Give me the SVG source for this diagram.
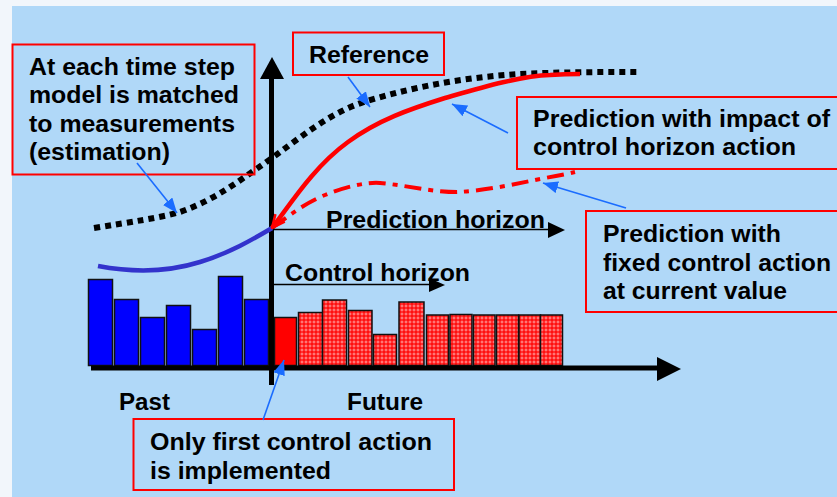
<svg xmlns="http://www.w3.org/2000/svg" width="837" height="497" viewBox="0 0 837 497">
  <style>
    .lbl { font-family: "Liberation Sans", Arial, sans-serif; font-weight: bold; font-size: 23px; fill: #000; }
    .box { fill: none; stroke: #ff0000; stroke-width: 2; }
    .past { fill: #0000ff; stroke: #111; stroke-width: 1.5; }
    .fut { fill: url(#hatch); stroke: #111; stroke-width: 1.5; }
    .call { fill: none; stroke: #1a6cff; stroke-width: 1.6; marker-end: url(#tip); }
  </style>
  <defs>
    <pattern id="hatch" width="4" height="4" patternUnits="userSpaceOnUse">
      <rect width="4" height="4" fill="#ff1010"/>
      <path d="M2 0.5v3M0.5 2h3" stroke="#ffb0b0" stroke-width="0.8"/>
    </pattern>
    <marker id="tip" markerUnits="userSpaceOnUse" markerWidth="16" markerHeight="12" refX="15" refY="6" orient="auto">
      <path d="M0,0 L15,6 L0,12 z" fill="#1a6cff"/>
    </marker>
    <marker id="open" markerUnits="userSpaceOnUse" markerWidth="16" markerHeight="16" refX="1" refY="8" orient="auto">
      <path d="M14,2 L1,8 L14,14" fill="none" stroke="#ff0000" stroke-width="2.5"/>
    </marker>
  </defs>

  <!-- page and slide panel -->
  <rect width="837" height="497" fill="#f2f6fb"/>
  <rect x="12" y="6" width="825" height="491" fill="#b0d8f8"/>

  <!-- past input moves -->
  <g id="past-bars">
    <rect class="past" x="88.5" y="279.5" width="24" height="86"/>
    <rect class="past" x="114.5" y="299.5" width="24" height="66"/>
    <rect class="past" x="140.5" y="317.5" width="24" height="48"/>
    <rect class="past" x="166.5" y="305.5" width="24" height="60"/>
    <rect class="past" x="192.5" y="329.5" width="24" height="36"/>
    <rect class="past" x="218.5" y="276.5" width="24" height="89"/>
    <rect class="past" x="244.5" y="299.5" width="24" height="66"/>
  </g>

  <!-- planned future moves -->
  <g id="future-bars">
    <rect x="274.5" y="317.5" width="22" height="48" fill="#ff0000" stroke="#111" stroke-width="1.5"/>
    <rect class="fut" x="298.5" y="312.5" width="24" height="53"/>
    <rect class="fut" x="322.5" y="300" width="24" height="65.5"/>
    <rect class="fut" x="348.5" y="310.5" width="23.5" height="55"/>
    <rect class="fut" x="373.5" y="334.5" width="23" height="31"/>
    <rect class="fut" x="399" y="302" width="25" height="63.5"/>
    <rect class="fut" x="426.5" y="315" width="22" height="50.5"/>
    <rect class="fut" x="450" y="314.5" width="22" height="51"/>
    <rect class="fut" x="473.5" y="315" width="21.5" height="50.5"/>
    <rect class="fut" x="496.5" y="315" width="22" height="50.5"/>
    <rect class="fut" x="519" y="315" width="21.5" height="50.5"/>
    <rect class="fut" x="540.5" y="315" width="22" height="50.5"/>
  </g>

  <!-- axes -->
  <g id="axes">
    <line x1="91" y1="368" x2="660" y2="368" stroke="#000" stroke-width="5"/>
    <polygon points="657,357 681,369 657,381" fill="#000"/>
    <line x1="271.5" y1="385" x2="271.5" y2="76" stroke="#000" stroke-width="5"/>
    <polygon points="260,79 272,57 284,79" fill="#000"/>
  </g>

  <!-- curves -->
  <g id="curves">
    <path d="M98,266 C130,272 165,273 200,262 C230,253 255,238 272,228" fill="none" stroke="#3333cc" stroke-width="4.5"/>
    <path d="M94,228 C130,222 160,218 180,212 C215,200 240,180 265,163 C300,138 330,112 367,101 C420,85 470,77 520,74 C560,72 600,72 640,72" fill="none" stroke="#000" stroke-width="6" stroke-dasharray="6 5"/>
    <path d="M272,228 C288,208 312,168 348,142 C378,120 410,109 445,98 C480,88 520,76 550,75 C565,74 575,74 580,74" fill="none" stroke="#ff0000" stroke-width="4.5" marker-start="url(#open)"/>
    <path d="M272,228 C290,215 305,203 325,195 C345,187 365,182 380,183 C405,185 430,192 457,192 C485,191 520,183 545,178 C557,176 567,174 575,172" fill="none" stroke="#ff0000" stroke-width="4" stroke-dasharray="17 7 5 7"/>
  </g>

  <!-- horizons -->
  <g id="prediction-horizon">
    <line x1="273" y1="229.5" x2="550" y2="229.5" stroke="#000" stroke-width="1.6"/>
    <polygon points="548,222 565,230 548,238" fill="#000"/>
    <text class="lbl" x="326" y="228" textLength="219" lengthAdjust="spacingAndGlyphs">Prediction horizon</text>
  </g>
  <g id="control-horizon">
    <line x1="273" y1="284.5" x2="431" y2="284.5" stroke="#000" stroke-width="1.6"/>
    <polygon points="429,278 445,285 429,292" fill="#000"/>
    <text class="lbl" x="285" y="281" textLength="185" lengthAdjust="spacingAndGlyphs">Control horizon</text>
  </g>

  <g id="past-label"><text class="lbl" x="119" y="410" textLength="51" lengthAdjust="spacingAndGlyphs">Past</text></g>
  <g id="future-label"><text class="lbl" x="347" y="410" textLength="76" lengthAdjust="spacingAndGlyphs">Future</text></g>

  <!-- callout boxes -->
  <g id="estimation">
    <rect class="box" x="12.5" y="44.5" width="242" height="130"/>
    <text class="lbl" x="29" y="75" textLength="206" lengthAdjust="spacingAndGlyphs">At each time step</text>
    <text class="lbl" x="29" y="103" textLength="210" lengthAdjust="spacingAndGlyphs">model is matched</text>
    <text class="lbl" x="29" y="131.5" textLength="206" lengthAdjust="spacingAndGlyphs">to measurements</text>
    <text class="lbl" x="29" y="160" textLength="141" lengthAdjust="spacingAndGlyphs">(estimation)</text>
  </g>
  <g id="reference">
    <rect class="box" x="293" y="32.5" width="151" height="42.5"/>
    <text class="lbl" x="309" y="63" textLength="120" lengthAdjust="spacingAndGlyphs">Reference</text>
  </g>
  <g id="impact">
    <rect class="box" x="517" y="97" width="340" height="72"/>
    <text class="lbl" x="533" y="127" textLength="297" lengthAdjust="spacingAndGlyphs">Prediction with impact of</text>
    <text class="lbl" x="533" y="155" textLength="263" lengthAdjust="spacingAndGlyphs">control horizon action</text>
  </g>
  <g id="fixed">
    <rect class="box" x="586" y="211" width="270" height="101"/>
    <text class="lbl" x="603" y="242" textLength="178" lengthAdjust="spacingAndGlyphs">Prediction with</text>
    <text class="lbl" x="603" y="270.5" textLength="228" lengthAdjust="spacingAndGlyphs">fixed control action</text>
    <text class="lbl" x="603" y="299" textLength="184" lengthAdjust="spacingAndGlyphs">at current value</text>
  </g>
  <g id="first-action">
    <rect class="box" x="133.5" y="419" width="320.5" height="71"/>
    <text class="lbl" x="150" y="450" textLength="282" lengthAdjust="spacingAndGlyphs">Only first control action</text>
    <text class="lbl" x="150" y="479" textLength="181" lengthAdjust="spacingAndGlyphs">is implemented</text>
  </g>

  <!-- callout leaders -->
  <g id="connectors">
    <line class="call" x1="137" y1="163" x2="177" y2="213"/>
    <line class="call" x1="348" y1="77" x2="370" y2="107"/>
    <line class="call" x1="508" y1="133" x2="452" y2="104"/>
    <line class="call" x1="626" y1="208" x2="543" y2="183"/>
    <line class="call" x1="263" y1="420" x2="284" y2="360"/>
  </g>
</svg>
